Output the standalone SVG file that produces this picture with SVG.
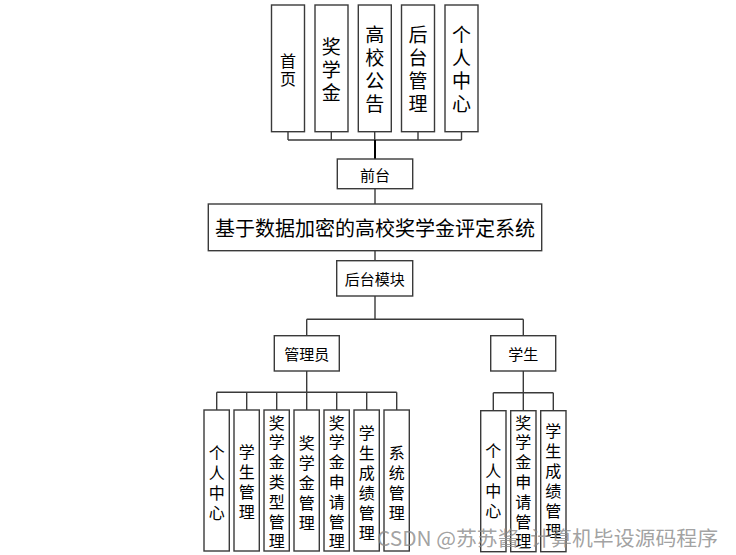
<svg xmlns="http://www.w3.org/2000/svg" width="736" height="555" viewBox="0 0 736 555">
<style>
.b{fill:#fff;stroke:#3a3a3a;stroke-width:1.4}
.t{font-family:"Noto Sans CJK SC","Liberation Sans",sans-serif;fill:#000;text-anchor:middle;dominant-baseline:central}
.l{fill:none;stroke:#3a3a3a;stroke-width:1.4}
</style>
<rect width="736" height="555" fill="#fff"/>
<g id="connectors" class="l">
<path d="M288 131.7V140M331.3 131.7V140M374.7 131.7V140M418 131.7V140M461.5 131.7V140M288 140H461.5"/>
<path d="M375 140V159" stroke="#000" stroke-width="2"/>
<path d="M375 188.7V204M375 250.7V260.7M375 296V319.3M306.7 319.3H523.3M306.7 319.3V335.7M523.3 319.3V335.7"/>
<path d="M306.7 371V392.3M216.7 392.3H396.7M216.7 392.3V410M246.7 392.3V410M276.7 392.3V410M306.7 392.3V410M336.7 392.3V410M366.7 392.3V410M396.7 392.3V410"/>
<path d="M523.3 371V392.7M493.3 392.7H553.3M493.3 392.7V410.7M523.3 392.7V410.7M553.3 392.7V410.7"/>
</g>
<g id="n_home"><rect class="b" x="271.5" y="5" width="33" height="126.7"/><text class="t" font-size="16"><tspan x="288" y="60">首</tspan><tspan x="288" y="78">页</tspan></text></g>
<g id="n_jxj"><rect class="b" x="315" y="5" width="33" height="126.7"/><text class="t" font-size="19"><tspan x="331.3" y="45">奖</tspan><tspan x="331.3" y="68">学</tspan><tspan x="331.3" y="91">金</tspan></text></g>
<g id="n_notice"><rect class="b" x="358.3" y="5" width="33" height="126.7"/><text class="t" font-size="19"><tspan x="374.7" y="33">高</tspan><tspan x="374.7" y="56">校</tspan><tspan x="374.7" y="79">公</tspan><tspan x="374.7" y="102">告</tspan></text></g>
<g id="n_admin_top"><rect class="b" x="401.5" y="5" width="33" height="126.7"/><text class="t" font-size="19"><tspan x="418" y="33">后</tspan><tspan x="418" y="56">台</tspan><tspan x="418" y="79">管</tspan><tspan x="418" y="102">理</tspan></text></g>
<g id="n_personal_top"><rect class="b" x="445" y="5" width="33" height="126.7"/><text class="t" font-size="19"><tspan x="461.5" y="33">个</tspan><tspan x="461.5" y="56">人</tspan><tspan x="461.5" y="79">中</tspan><tspan x="461.5" y="102">心</tspan></text></g>
<g id="n_front"><rect class="b" x="337.3" y="159" width="75.4" height="29.7"/><text class="t" font-size="15" x="375" y="174">前台</text></g>
<g id="n_system"><rect class="b" x="208.3" y="204" width="333.4" height="46.7"/><text class="t" font-size="20" x="375" y="227">基于数据加密的高校奖学金评定系统</text></g>
<g id="n_back"><rect class="b" x="336.7" y="260.7" width="76" height="35.3"/><text class="t" font-size="15" x="374.7" y="278.5">后台模块</text></g>
<g id="n_admin"><rect class="b" x="274.3" y="335.7" width="65" height="35.3"/><text class="t" font-size="15" x="306.8" y="353.5">管理员</text></g>
<g id="n_student"><rect class="b" x="490.7" y="335.7" width="65" height="35.3"/><text class="t" font-size="15" x="523.2" y="353.5">学生</text></g>
<g id="a1"><rect class="b" x="204" y="410" width="25.3" height="141"/><text class="t" font-size="16"><tspan x="216.7" y="452">个</tspan><tspan x="216.7" y="472">人</tspan><tspan x="216.7" y="492">中</tspan><tspan x="216.7" y="512">心</tspan></text></g>
<g id="a2"><rect class="b" x="234" y="410" width="25.3" height="141"/><text class="t" font-size="16"><tspan x="246.7" y="451">学</tspan><tspan x="246.7" y="471">生</tspan><tspan x="246.7" y="491">管</tspan><tspan x="246.7" y="511">理</tspan></text></g>
<g id="a3"><rect class="b" x="264" y="410" width="25.3" height="141"/><text class="t" font-size="16"><tspan x="276.7" y="421.5">奖</tspan><tspan x="276.7" y="441.3">学</tspan><tspan x="276.7" y="461.1">金</tspan><tspan x="276.7" y="480.9">类</tspan><tspan x="276.7" y="500.7">型</tspan><tspan x="276.7" y="520.5">管</tspan><tspan x="276.7" y="540.3">理</tspan></text></g>
<g id="a4"><rect class="b" x="294" y="410" width="25.3" height="141"/><text class="t" font-size="16"><tspan x="306.7" y="442">奖</tspan><tspan x="306.7" y="462">学</tspan><tspan x="306.7" y="482">金</tspan><tspan x="306.7" y="502">管</tspan><tspan x="306.7" y="522">理</tspan></text></g>
<g id="a5"><rect class="b" x="324" y="410" width="25.3" height="141"/><text class="t" font-size="16"><tspan x="336.7" y="421.5">奖</tspan><tspan x="336.7" y="441.3">学</tspan><tspan x="336.7" y="461.1">金</tspan><tspan x="336.7" y="480.9">申</tspan><tspan x="336.7" y="500.7">请</tspan><tspan x="336.7" y="520.5">管</tspan><tspan x="336.7" y="540.3">理</tspan></text></g>
<g id="a6"><rect class="b" x="354" y="410" width="25.3" height="141"/><text class="t" font-size="16"><tspan x="366.7" y="431.5">学</tspan><tspan x="366.7" y="451.5">生</tspan><tspan x="366.7" y="471.5">成</tspan><tspan x="366.7" y="491.5">绩</tspan><tspan x="366.7" y="511.5">管</tspan><tspan x="366.7" y="531.5">理</tspan></text></g>
<g id="a7"><rect class="b" x="384" y="410" width="25.3" height="141"/><text class="t" font-size="16"><tspan x="396.7" y="452">系</tspan><tspan x="396.7" y="472">统</tspan><tspan x="396.7" y="492">管</tspan><tspan x="396.7" y="512">理</tspan></text></g>
<g id="s1"><rect class="b" x="480.7" y="410.7" width="25.3" height="141"/><text class="t" font-size="16"><tspan x="493.3" y="450">个</tspan><tspan x="493.3" y="470">人</tspan><tspan x="493.3" y="490">中</tspan><tspan x="493.3" y="510">心</tspan></text></g>
<g id="s2"><rect class="b" x="510.7" y="410.7" width="25.3" height="141"/><text class="t" font-size="16"><tspan x="523.3" y="421.5">奖</tspan><tspan x="523.3" y="441.3">学</tspan><tspan x="523.3" y="461.1">金</tspan><tspan x="523.3" y="480.9">申</tspan><tspan x="523.3" y="500.7">请</tspan><tspan x="523.3" y="520.5">管</tspan><tspan x="523.3" y="540.3">理</tspan></text></g>
<g id="s3"><rect class="b" x="540.7" y="410.7" width="25.3" height="141"/><text class="t" font-size="16"><tspan x="553.3" y="430">学</tspan><tspan x="553.3" y="450">生</tspan><tspan x="553.3" y="470">成</tspan><tspan x="553.3" y="490">绩</tspan><tspan x="553.3" y="510">管</tspan><tspan x="553.3" y="530">理</tspan></text></g>
<text x="377" y="537" font-size="20" textLength="341" lengthAdjust="spacingAndGlyphs" font-family="'Noto Sans CJK SC','Liberation Sans',sans-serif" fill="#8a8a8a" fill-opacity="0.8" dominant-baseline="central">CSDN @苏苏酱_计算机毕设源码程序</text>
</svg>
